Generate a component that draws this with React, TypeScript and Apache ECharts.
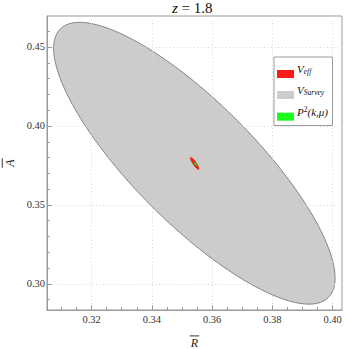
import React, { useEffect, useRef } from 'react';
import * as echarts from 'echarts';

const titleParts = ['z', ' = 1.8'];
const xAxisLetter = 'R';
const yAxisLetter = 'A';
const xRange = [0.3052, 0.4031];
const yRange = [0.2835, 0.4696];
const xMajorTicks = [0.32, 0.34, 0.36, 0.38, 0.4];
const xMinorTicks = [0.31, 0.315, 0.325, 0.33, 0.335, 0.345, 0.35, 0.355, 0.365, 0.37, 0.375, 0.385, 0.39, 0.395];
const yMajorTicks = [0.3, 0.35, 0.4, 0.45];
const yMinorTicks = [0.29, 0.31, 0.32, 0.33, 0.34, 0.36, 0.37, 0.38, 0.39, 0.41, 0.42, 0.43, 0.44, 0.46];

// Ellipses, in drawing order
const seriesNames = ['V_Survey', 'V_eff', 'P2'];
const centerX = [0.3541, 0.3542, 0.3545];
const centerY = [0.3764, 0.3763, 0.3759];
const halfWidthX = [0.0467, 0.00143, 0.00053];
const halfHeightY = [0.0892, 0.0038, 0.00127];
const correlation = [-0.815, -0.88, -0.85];
const fillColors = ['#cccccc', '#ff1a1a', '#1aff1a'];
const strokeColors = ['#7a7a7a', '#cc1111', '#11cc11'];

// Legend
const legendNames = ['V_eff', 'V_Survey', 'P2'];
const legendLabels = ['{v|V}{sub|eff}', '{v|V}{sub|Survey}', '{v|P}{sup|2}{v|(k,μ)}'];
const legendColors = ['#ff1a1a', '#cccccc', '#1aff1a'];

const SERIF = 'Liberation Serif';

export default function App() {
  const ref = useRef<HTMLDivElement>(null);
  useEffect(() => {
    if (!ref.current) return;
    const chart = echarts.init(ref.current, null, { renderer: 'svg' });

    const series = seriesNames.map((name, i) => ({
      name,
      type: 'custom',
      xAxisIndex: 0,
      yAxisIndex: 0,
      z: 2 + i,
      clip: true,
      itemStyle: { color: fillColors[i] },
      data: [[centerX[i], centerY[i], halfWidthX[i], halfHeightY[i], correlation[i]]],
      encode: { x: 0, y: 1 },
      renderItem: (params: any, api: any) => {
        const cx = api.value(0);
        const cy = api.value(1);
        const sx = api.value(2);
        const sy = api.value(3);
        const rho = api.value(4);
        const k = Math.sqrt(1 - rho * rho);
        const pts: number[][] = [];
        const n = 180;
        for (let j = 0; j < n; j++) {
          const t = (2 * Math.PI * j) / n;
          pts.push(api.coord([cx + sx * Math.cos(t), cy + sy * (rho * Math.cos(t) + k * Math.sin(t))]));
        }
        return {
          type: 'polygon',
          shape: { points: pts },
          style: { fill: fillColors[i], stroke: strokeColors[i], lineWidth: i === 0 ? 0.9 : 0.5 },
        };
      },
    }));

    const legendRich = {
      v: { fontFamily: SERIF, fontStyle: 'italic', fontSize: 11, lineHeight: 13, fill: '#111' },
      sub: { fontFamily: SERIF, fontStyle: 'italic', fontSize: 7.5, lineHeight: 7, verticalAlign: 'bottom', fill: '#111' },
      sup: { fontFamily: SERIF, fontSize: 7.5, lineHeight: 7, verticalAlign: 'top', fill: '#111' },
    };

    const legendTop = 57;
    const legendLeft = 274;
    const swatchY = [70, 91, 112.7];
    const legendGraphics: any[] = [
      {
        type: 'rect',
        shape: { x: legendLeft, y: legendTop, width: 58.5, height: 68.5 },
        style: { fill: '#ffffff', stroke: '#9a9a9a', lineWidth: 1 },
        z: 10,
      },
    ];
    legendNames.forEach((nm, i) => {
      legendGraphics.push({
        type: 'rect',
        name: nm,
        shape: { x: 277, y: swatchY[i], width: 17, height: 8 },
        style: { fill: legendColors[i] },
        z: 11,
      });
      legendGraphics.push({
        type: 'text',
        x: 297,
        y: swatchY[i] + 4 - 5,
        style: {
          text: legendLabels[i],
          rich: legendRich,
          verticalAlign: 'middle',
          align: 'left',
          fontFamily: SERIF,
          fontSize: 11,
        },
        z: 11,
      });
    });

    const nameRich = {
      bar: { width: 8, height: 0.9, lineHeight: 3, backgroundColor: '#222', padding: [0, 0, 0, 1.5] },
      i: { fontFamily: SERIF, fontStyle: 'italic', fontSize: 12, lineHeight: 12, color: '#222' },
    };

    chart.setOption({
      animation: false,
      backgroundColor: '#ffffff',
      textStyle: { fontFamily: SERIF },
      title: {
        text: '{i|' + titleParts[0] + '}{n|' + titleParts[1] + '}',
        left: 172,
        top: 0,
        padding: 0,
        textStyle: {
          fontWeight: 'normal',
          fontFamily: SERIF,
          rich: {
            i: { fontFamily: SERIF, fontStyle: 'italic', fontWeight: 'normal', fontSize: 15, color: '#111' },
            n: { fontFamily: SERIF, fontWeight: 'normal', fontSize: 15, color: '#111' },
          },
        },
      },
      grid: {
        left: 47,
        top: 16,
        right: 7,
        bottom: 39,
        show: true,
        borderColor: '#9a9a9a',
        borderWidth: 1,
        backgroundColor: 'transparent',
        containLabel: false,
        outerBoundsMode: 'none',
      },
      xAxis: [
        {
          type: 'value',
          min: xRange[0],
          max: xRange[1],
          position: 'bottom',
          z: 5,
          name: '{bar|}\n{i|' + xAxisLetter + '}',
          nameLocation: 'middle',
          nameGap: 17,
          nameTextStyle: { rich: nameRich, fontFamily: SERIF },
          axisLine: { show: true, lineStyle: { color: '#9a9a9a', width: 1 } },
          axisTick: { show: true, inside: true, length: 5, customValues: xMajorTicks, lineStyle: { color: '#9a9a9a' } },
          axisLabel: {
            show: true,
            margin: 4,
            customValues: xMajorTicks,
            formatter: (v: number) => '{t|' + v.toFixed(2) + '}',
            rich: { t: { fontFamily: SERIF, fontSize: 10.5, color: '#333' } },
          },
          splitLine: { show: true, lineStyle: { color: '#d6d6d6', type: [1, 2.5], width: 1 } },
        },
        {
          type: 'value',
          min: xRange[0],
          max: xRange[1],
          position: 'bottom',
          z: 5,
          axisLine: { show: false },
          axisTick: { show: true, inside: true, length: 3, customValues: xMinorTicks, lineStyle: { color: '#9a9a9a' } },
          axisLabel: { show: false },
          splitLine: { show: false },
        },
      ],
      yAxis: [
        {
          type: 'value',
          min: yRange[0],
          max: yRange[1],
          position: 'left',
          z: 5,
          name: '{bar|}\n{i|' + yAxisLetter + '}',
          nameLocation: 'middle',
          nameGap: 26,
          nameRotate: 90,
          nameTextStyle: { rich: nameRich, fontFamily: SERIF },
          axisLine: { show: true, lineStyle: { color: '#9a9a9a', width: 1 } },
          axisTick: { show: true, inside: true, length: 5, customValues: yMajorTicks, lineStyle: { color: '#9a9a9a' } },
          axisLabel: {
            show: true,
            margin: 2,
            customValues: yMajorTicks,
            formatter: (v: number) => '{t|' + v.toFixed(2) + '}',
            rich: { t: { fontFamily: SERIF, fontSize: 10.5, color: '#333' } },
          },
          splitLine: { show: true, lineStyle: { color: '#d6d6d6', type: [1, 2.5], width: 1 } },
        },
        {
          type: 'value',
          min: yRange[0],
          max: yRange[1],
          position: 'left',
          z: 5,
          axisLine: { show: false },
          axisTick: { show: true, inside: true, length: 3, customValues: yMinorTicks, lineStyle: { color: '#9a9a9a' } },
          axisLabel: { show: false },
          splitLine: { show: false },
        },
      ],
      series,
      graphic: legendGraphics,
    });

    return () => chart.dispose();
  }, []);

  return (
    <div
      ref={ref}
      style={{ position: 'absolute', left: 0, top: 0, width: 349, height: 349, background: '#fff' }}
    />
  );
}
